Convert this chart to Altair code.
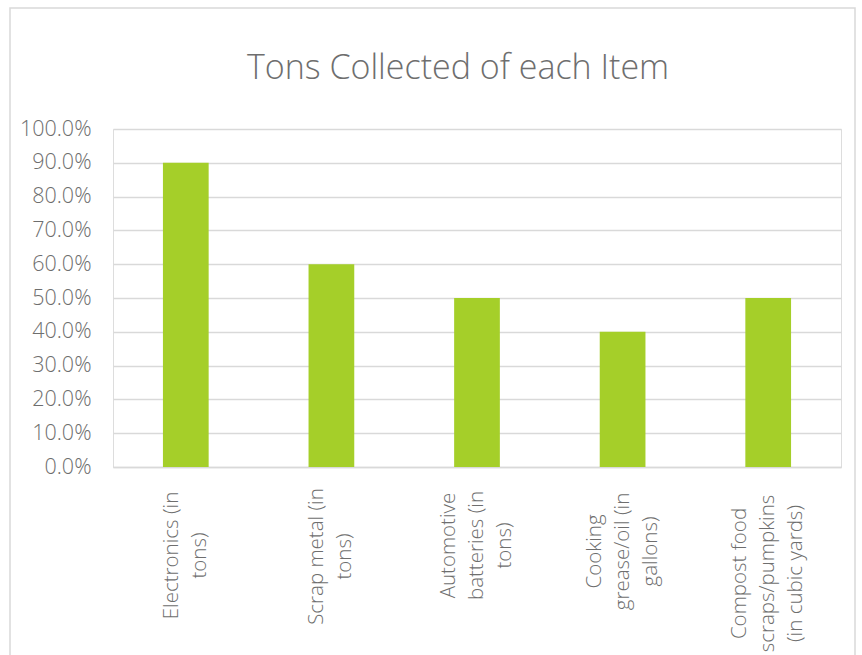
import altair as alt
import pandas as pd

categories = [
    "Electronics (in\ntons)",
    "Scrap metal (in\ntons)",
    "Automotive\nbatteries (in\ntons)",
    "Cooking\ngrease/oil (in\ngallons)",
    "Compost food\nscraps/pumpkins\n(in cubic yards)",
]
values = [0.90, 0.60, 0.50, 0.40, 0.50]
y_ticks = [0.0, 0.1, 0.2, 0.3, 0.4, 0.5, 0.6, 0.7, 0.8, 0.9, 1.0]

df = pd.DataFrame({"item": categories, "value": values})

FONT = "Open Sans"
TEXT = "#6e6e6e"
GRID = "#d9d9d9"

# centre each multi-line label block on its tick and centre lines on the longest one
label_offset = {
    "condition": {"test": "length(split(datum.value, '\\n')) == 3", "value": -28},
    "value": -14,
}
label_padding = {
    "condition": [
        {"test": "indexof(datum.value, 'Electronics') >= 0", "value": 88},
        {"test": "indexof(datum.value, 'Scrap') >= 0", "value": 89},
        {"test": "indexof(datum.value, 'Automotive') >= 0", "value": 78},
        {"test": "indexof(datum.value, 'Cooking') >= 0", "value": 84},
    ],
    "value": 106,
}

frame = alt.Chart(pd.DataFrame({"a": [0]})).mark_rect(
    fill="white", fillOpacity=0, stroke=GRID, strokeWidth=1.5
).encode(
    x=alt.value(-103), x2=alt.value(742), y=alt.value(-121), y2=alt.value(600)
)

bars = alt.Chart(df).mark_bar(color="#A5CF29").encode(
    x=alt.X(
        "item:N",
        sort=categories,
        title=None,
        scale=alt.Scale(paddingInner=0.686, paddingOuter=0.343),
        axis=alt.Axis(
            labelAngle=-90,
            labelAlign="center",
            labelBaseline="middle",
            labelExpr="split(datum.label, '\\n')",
            labelLineHeight=28,
            labelPadding=label_padding,
            labelOffset=label_offset,
            labelFontSize=20.5,
            labelFont=FONT,
            labelFontWeight=300,
            labelColor=TEXT,
            ticks=False,
            domainColor=GRID,
            domainWidth=1.5,
            grid=False,
            labelLimit=400,
        ),
    ),
    y=alt.Y(
        "value:Q",
        title=None,
        scale=alt.Scale(domain=[0, 1], nice=False),
        axis=alt.Axis(
            values=y_ticks,
            format=".1%",
            ticks=False,
            domain=False,
            labelPadding=22,
            labelFontSize=21.5,
            labelFont=FONT,
            labelFontWeight=300,
            labelColor=TEXT,
            gridColor=GRID,
            gridWidth=1.5,
        ),
    ),
)

chart = alt.layer(frame, bars).properties(
    width=728,
    height=338,
    title=alt.TitleParams(
        "Tons Collected of each Item",
        font=FONT,
        fontSize=34,
        fontWeight=300,
        color=TEXT,
        anchor="middle",
        offset=-79,
        dx=-19,
    ),
    autosize=alt.AutoSizeParams(type="none"),
    padding={"left": 113, "top": 129, "right": 21, "bottom": 188},
).configure_view(stroke=None).configure(background="white")

chart.save("out.html", embed_options={"renderer": "svg", "actions": False})
